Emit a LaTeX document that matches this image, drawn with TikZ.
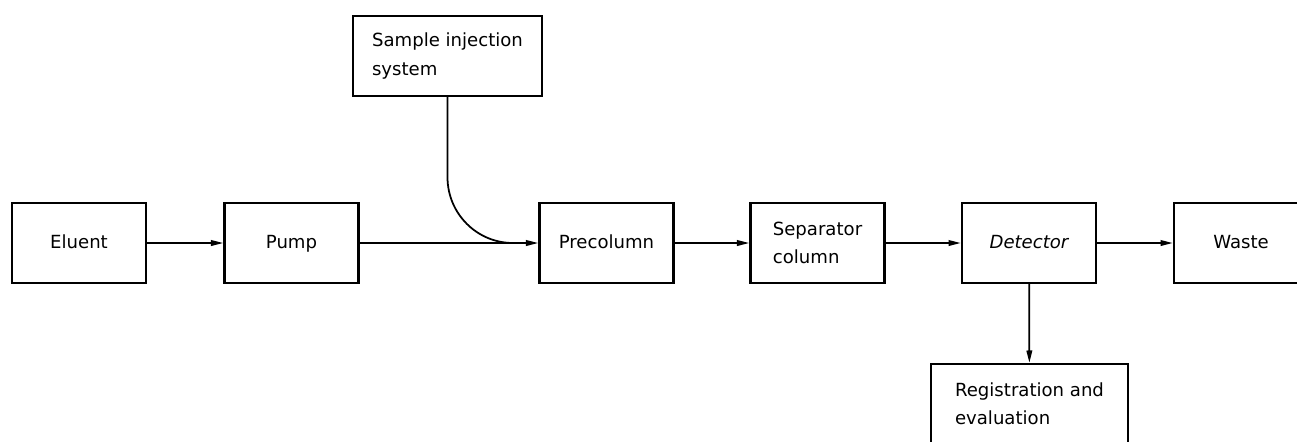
\documentclass[tikz,border=0pt]{standalone}
\usepackage{fontspec}
\setmainfont{DejaVu Sans}
\usetikzlibrary{arrows.meta}

\begin{document}
\begin{tikzpicture}[x=0.02cm,y=-0.02cm,
  box/.style={draw,line width=1.4pt,minimum width=2.68cm,minimum height=1.6cm,
    align=left,font=\fontsize{10.3}{16}\selectfont},
  oneline/.style={execute at begin node={\strut}},
  flow/.style={line width=1pt,-{Triangle[length=7pt,width=3.2pt]}}]
\useasboundingbox (0,0) rectangle (1297,441);

\draw (79,243) node[box,oneline] (eluent) {Eluent};
\draw (291.5,243) node[box,oneline] (pump) {Pump};
\draw (606.5,243) node[box,oneline] (pre) {Precolumn};
\draw (817.5,243) node[box] (sep) {Separator\\column};
\draw (1029,243) node[box,oneline] (det) {\itshape Detector};
\draw (1241,243) node[box,oneline] (waste) {Waste};

\draw (447.5,56) node[box,minimum width=3.78cm] (inj) {Sample injection\\system};
\draw (1029.5,404) node[box,minimum width=3.94cm] (reg) {Registration and\\evaluation};

\coordinate (join) at (513,243);

\draw[flow] (eluent) -- (pump);
\draw[flow] (pump) -- (pre);
\draw[line width=1pt] (inj.south) -- ++(0,80) to[out=-90,in=180] (join);
\draw[flow] (pre) -- (sep);
\draw[flow] (sep) -- (det);
\draw[flow] (det) -- (waste);
\draw[flow] (det) -- (reg);
\end{tikzpicture}
\end{document}
